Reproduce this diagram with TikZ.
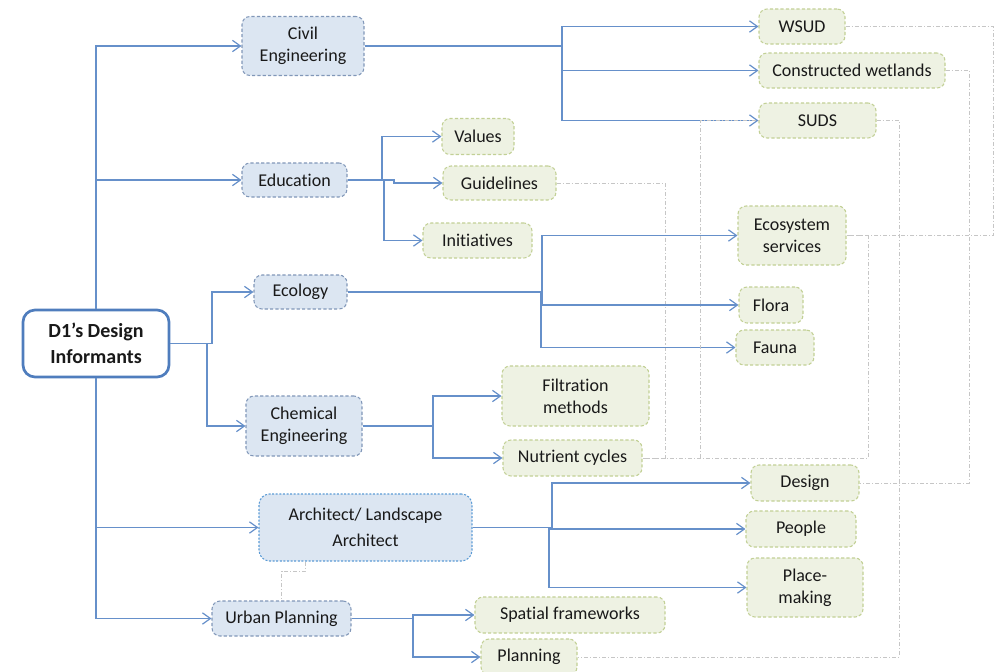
\documentclass[tikz,border=0pt]{standalone}
\usepackage{fontspec}
\setmainfont{Carlito}[Ligatures=NoCommon]
\usetikzlibrary{arrows.meta,calc}
\definecolor{linkblue}{HTML}{6690CA}
\definecolor{catfill}{HTML}{DCE6F2}
\definecolor{catedge}{HTML}{8197B8}
\definecolor{archedge}{HTML}{5B9BD5}
\definecolor{leaffill}{HTML}{EEF2E3}
\definecolor{leafedge}{HTML}{C2D095}
\definecolor{reledge}{HTML}{C6C6C6}
\definecolor{rootedge}{HTML}{4F7DBD}
\begin{document}
\begin{tikzpicture}[x=0.75pt,y=-0.75pt,
  sz/.style 2 args={minimum width=#1*0.75pt, minimum height=#2*0.75pt},
  txt/.style={font=\fontsize{13.5}{16.5}\selectfont, align=center, inner sep=0pt, text=black!90},
  cat/.style={txt, draw=catedge, fill=catfill, line width=0.8pt, dash pattern=on 2.4pt off 1.6pt, rounded corners=6pt},
  archbox/.style={txt, font=\fontsize{13.5}{19.5}\selectfont, draw=archedge, fill=catfill, line width=0.8pt, dash pattern=on 1.5pt off 1.2pt, rounded corners=8pt},
  leaf/.style={txt, draw=leafedge, fill=leaffill, line width=0.8pt, dash pattern=on 2.4pt off 1.6pt, rounded corners=6pt},
  rootbox/.style={txt, font=\bfseries\fontsize{15}{19.5}\selectfont, draw=rootedge, fill=white, line width=2pt, rounded corners=9pt},
  link/.style={draw=linkblue, line width=0.9pt, -{Straight Barb[length=6pt,width=8.5pt]}},
  rel/.style={draw=reledge, line width=0.6pt, dash pattern=on 3pt off 1.5pt on 0.8pt off 1.5pt}
]
\useasboundingbox (0,0) rectangle (1002,671);

% root
\node[rootbox, sz={146}{67}] (root) at (96,343.5) {D1’s Design\\Informants};

% disciplines
\node[cat, sz={122}{59}] (civil) at (303,46) {Civil\\Engineering};
\node[cat, sz={105}{34}] (edu) at (294.5,180) {Education};
\node[cat, sz={93}{34}] (ecol) at (300.5,292) {Ecology};
\node[cat, sz={116}{60}] (chem) at (304,426) {Chemical\\Engineering};
\node[archbox, sz={213}{67}] (arch) at (365.5,527.5) {Architect/ Landscape\\Architect};
\node[cat, sz={139}{35}] (urban) at (281.5,618.5) {Urban Planning};

% topics
\node[leaf, sz={86}{35}] (wsud) at (802,26.5) {WSUD};
\node[leaf, sz={186}{35}] (wet) at (852,70.5) {Constructed wetlands};
\node[leaf, sz={117}{35}] (suds) at (817.5,120.5) {SUDS};
\node[leaf, sz={72}{36}] (values) at (478,136.5) {Values};
\node[leaf, sz={113}{34}] (guide) at (499.5,183) {Guidelines};
\node[leaf, sz={109}{35}] (init) at (477.5,240.5) {Initiatives};
\node[leaf, sz={108}{59}] (ecos) at (792,235.5) {Ecosystem\\services};
\node[leaf, sz={64}{36}] (flora) at (771,305) {Flora};
\node[leaf, sz={78}{35}] (fauna) at (775,347.5) {Fauna};
\node[leaf, sz={147}{60}] (filt) at (575.5,396) {Filtration\\methods};
\node[leaf, sz={139}{36}] (nutr) at (572.5,458) {Nutrient cycles};
\node[leaf, sz={108}{36}] (design) at (805,483) {Design};
\node[leaf, sz={110}{36}] (people) at (801,529) {People};
\node[leaf, sz={116}{59}] (place) at (805,587.5) {Place-\\making};
\node[leaf, sz={190}{36}] (spatial) at (570,615) {Spatial frameworks};
\node[leaf, sz={96}{36}] (plan) at (529,657) {Planning};

% cross-links between topics
\coordinate (g1) at (993,235.5);
\coordinate (g2) at (969,483);
\coordinate (g3) at (899,657);
\coordinate (g4) at (665,458);
\coordinate (g5) at (700,458);
\coordinate (g6) at (868,235.5);
\coordinate (a1) at ($(arch.south west)!0.22!(arch.south east)$);
\coordinate (a2) at (281.5,571);
\draw[rel] (wsud.east) -| (g1) -- (ecos.east);
\draw[rel] (wet.east) -| (g2) -- (design.east);
\draw[rel] (suds.east) -| (g3) -- (plan.east);
\draw[rel] (guide.east) -| (g4) -- (nutr.east);
\draw[rel] (nutr.east) -| (g6) -- (ecos.east);
\draw[rel] (a1) |- (a2) -- (urban.north);

% branches from the root
\draw[link] (root.north) |- (civil.west);
\draw[link] (root.north) |- (edu.west);
\draw[link] (root.south) |- (arch.west);
\draw[link] (root.south) |- (urban.west);
\coordinate (jE) at (212,292);
\coordinate (jC) at (207,426);
\draw[link] (root.east) -| (jE) -- (ecol.west);
\draw[link] (root.east) -| (jC) -- (chem.west);

% civil engineering
\coordinate (jCV) at (562,46);
\draw[link] (civil.east) -- (jCV) |- (wsud.west);
\draw[link] (civil.east) -- (jCV) |- (wet.west);
\draw[link] (civil.east) -- (jCV) |- (suds.west);

% education
\coordinate (jV) at (382,180);
\coordinate (jG) at (394,183);
\coordinate (jI) at (384,180);
\draw[link] (edu.east) -- (jV) |- (values.west);
\draw[link] (edu.east) -| (jG) -- (guide.west);
\draw[link] (edu.east) -- (jI) |- (init.west);

% ecology
\coordinate (jX) at (542,292);
\coordinate (jF) at (541,292);
\draw[link] (ecol.east) -- (jX) |- (ecos.west);
\draw[link] (ecol.east) -- (jX) |- (flora.west);
\draw[link] (ecol.east) -- (jF) |- (fauna.west);

% chemical engineering
\coordinate (jCh) at (433,426);
\draw[link] (chem.east) -- (jCh) |- (filt.west);
\draw[link] (chem.east) -- (jCh) |- (nutr.west);

% architecture
\coordinate (jA) at (552,527.5);
\coordinate (jP) at (549,527.5);
\draw[link] (arch.east) -- (jA) |- (design.west);
\draw[link] (arch.east) -- (jP) |- (people.west);
\draw[link] (arch.east) -- (jP) |- (place.west);

% urban planning
\coordinate (jU) at (413,618.5);
\draw[link] (urban.east) -- (jU) |- (spatial.west);
\draw[link] (urban.east) -- (jU) |- (plan.west);

% link from nutrient cycles up to SUDS, drawn over the blue branch
\draw[rel] (g5) |- (suds.west);
\end{tikzpicture}
\end{document}
